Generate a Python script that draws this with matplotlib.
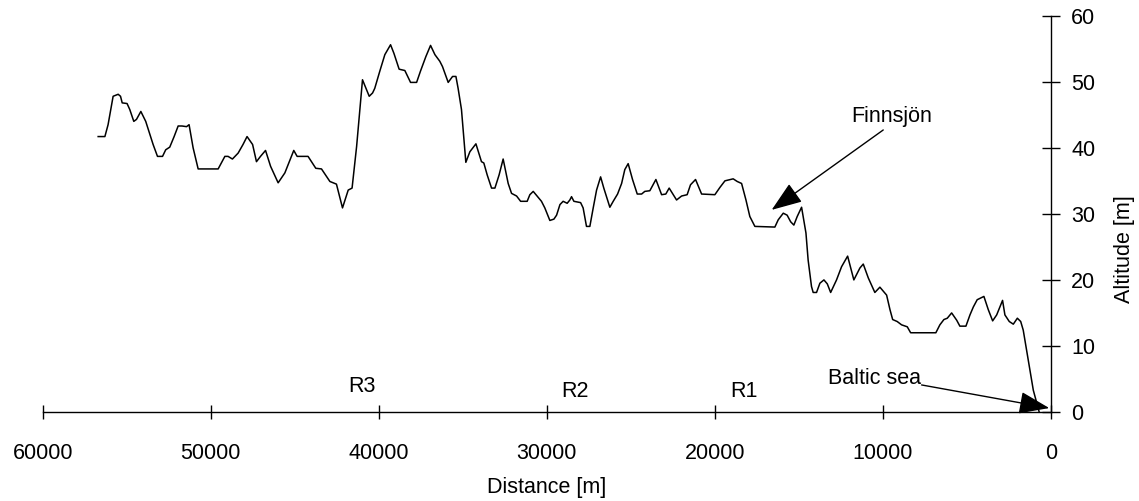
import matplotlib
matplotlib.use('Agg')
from matplotlib import pyplot as plt

plt.rcParams['font.family'] = ['Liberation Sans', 'DejaVu Sans']

# profile: distance from the sea [m], altitude [m]
distance = [56700, 56300, 56110, 55810, 55510, 55370, 55270, 54980, 54820, 54580,
            54420, 54160, 53870, 53430, 53170, 52870, 52680, 52440, 52180, 51940,
            51710, 51440, 51290, 51050, 50750, 49560, 49160, 48970, 48710, 48370,
            48080, 47840, 47510, 47280, 47040, 46740, 46440, 45990, 45590, 45060,
            44860, 44210, 43750, 43410, 42910, 42520, 42160, 41820, 41590, 41320,
            40970, 40570, 40370, 40240, 39940, 39640, 39300, 39100, 38790, 38450,
            38110, 37750, 37520, 37200, 36920, 36660, 36370, 36210, 35870, 35610,
            35410, 35280, 35080, 34820, 34580, 34220, 33890, 33750, 33550, 33290,
            33090, 32840, 32600, 32300, 32100, 31800, 31560, 31170, 31010, 30810,
            30580, 30320, 30120, 29820, 29580, 29420, 29220, 29030, 28790, 28630,
            28530, 28390, 27990, 27840, 27640, 27440, 27240, 27040, 26800, 26610,
            26250, 26050, 25790, 25550, 25360, 25160, 24900, 24620, 24360, 24170,
            23870, 23510, 23170, 22920, 22720, 22500, 22280, 21980, 21650, 21450,
            21150, 20790, 20000, 19700, 19400, 18910, 18670, 18410, 18150, 17920,
            17620, 16430, 16230, 15930, 15700, 15490, 15300, 15100, 14840, 14580,
            14450, 14250, 14150, 13950, 13750, 13510, 13310, 13110, 12760, 12460,
            12100, 11730, 11370, 11170, 10870, 10480, 10180, 9780, 9580, 9420,
            9150, 8890, 8550, 8350, 6850, 6610, 6370, 6170, 5910, 5610,
            5420, 5060, 4820, 4620, 4390, 3990, 3730, 3470, 3230, 2880,
            2740, 2480, 2240, 2000, 1800, 1650, 1350, 1050, 700]
altitude = [41.7, 41.7, 43.5, 47.8, 48.1, 47.8, 46.8, 46.7, 45.8, 44.0,
            44.3, 45.5, 44.0, 40.5, 38.7, 38.7, 39.7, 40.1, 41.7, 43.3,
            43.3, 43.2, 43.5, 40.0, 36.8, 36.8, 38.7, 38.7, 38.3, 39.2,
            40.5, 41.7, 40.5, 37.9, 38.7, 39.6, 37.2, 34.7, 36.2, 39.6,
            38.7, 38.7, 36.9, 36.8, 34.9, 34.5, 30.9, 33.6, 33.9, 40.2,
            50.3, 47.8, 48.3, 49.0, 51.6, 54.1, 55.6, 54.3, 51.9, 51.7,
            49.9, 49.9, 51.6, 53.8, 55.5, 54.1, 53.1, 52.3, 49.9, 50.8,
            50.8, 49.0, 45.8, 37.8, 39.4, 40.6, 37.9, 37.7, 35.9, 33.9,
            33.9, 35.9, 38.3, 34.6, 33.1, 32.7, 31.9, 31.9, 32.9, 33.4,
            32.7, 31.9, 30.9, 29.0, 29.2, 29.8, 31.4, 31.9, 31.6, 32.1,
            32.6, 31.9, 31.7, 30.9, 28.1, 28.1, 30.9, 33.6, 35.6, 33.9,
            31.0, 31.9, 33.0, 34.6, 36.7, 37.6, 35.2, 33.0, 33.0, 33.4,
            33.5, 35.2, 32.9, 33.0, 33.9, 33.0, 32.1, 32.7, 32.9, 34.4,
            35.2, 33.0, 32.9, 34.0, 35.0, 35.3, 34.9, 34.6, 32.1, 29.6,
            28.1, 28.0, 29.1, 30.1, 29.8, 28.8, 28.3, 29.6, 31.0, 27.1,
            23.0, 19.0, 18.1, 18.1, 19.5, 20.0, 19.4, 18.1, 20.0, 22.0,
            23.6, 20.0, 21.8, 22.4, 20.3, 18.1, 18.9, 17.7, 15.5, 14.0,
            13.7, 13.2, 12.9, 12.0, 12.0, 13.2, 14.0, 14.2, 15.0, 13.9,
            13.0, 13.0, 14.7, 15.9, 17.0, 17.5, 15.5, 13.8, 14.7, 16.9,
            14.7, 13.7, 13.3, 14.2, 13.7, 12.4, 7.9, 3.3, 0.0]

x_ticks = [60000, 50000, 40000, 30000, 20000, 10000, 0]
y_ticks = [0, 10, 20, 30, 40, 50, 60]

# reach labels
reach_names = ['R3', 'R2', 'R1']
reach_pos = [41000, 28350, 18300]
reach_alt = [3.9, 3.1, 3.1]

# annotations: text position, arrow start, arrow tip
finnsjon_text = (9500, 44.8)
finnsjon_start = (9980, 42.7)
finnsjon_tip = (16620, 30.6)
baltic_text = (10500, 5.1)
baltic_start = (7700, 4.1)
baltic_tip = (100, 0.6)

fs = 15.5

fig = plt.figure(figsize=(11.39, 5.01), dpi=100)
ax = fig.add_axes([0.0375, 0.1776, 0.8852, 0.7911])

ax.plot(distance, altitude, color='black', linewidth=1.1)

ax.set_xlim(60000, 0)
ax.set_ylim(0, 60)
ax.set_xticks(x_ticks)
ax.set_yticks(y_ticks)

ax.spines['top'].set_visible(False)
ax.spines['left'].set_visible(False)
ax.spines['bottom'].set_linewidth(1)
ax.spines['right'].set_linewidth(1)
ax.yaxis.tick_right()
ax.yaxis.set_label_position('right')
ax.tick_params(axis='x', direction='inout', length=10, width=1, pad=17, labelsize=fs)
ax.tick_params(axis='y', direction='inout', length=13, width=1, pad=8, labelsize=fs)

ax.set_xlabel('Distance [m]', fontsize=fs, labelpad=10)
ax.set_ylabel('Altitude [m]', fontsize=fs)
ax.yaxis.set_label_coords(1.063, 0.41)

for name, pos, alt in zip(reach_names, reach_pos, reach_alt):
    ax.text(pos, alt, name, ha='center', va='center', fontsize=fs)

arrow = dict(arrowstyle='-|>,head_length=1.9,head_width=0.7', color='black',
             lw=1, shrinkA=0, shrinkB=0)
ax.text(finnsjon_text[0], finnsjon_text[1], 'Finnsjön', ha='center', va='center', fontsize=fs)
ax.annotate('', xy=finnsjon_tip, xytext=finnsjon_start, arrowprops=arrow)
ax.text(baltic_text[0], baltic_text[1], 'Baltic sea', ha='center', va='center', fontsize=fs)
ax.annotate('', xy=baltic_tip, xytext=baltic_start, arrowprops=arrow, annotation_clip=False)

fig.savefig('out.png', dpi=100)
